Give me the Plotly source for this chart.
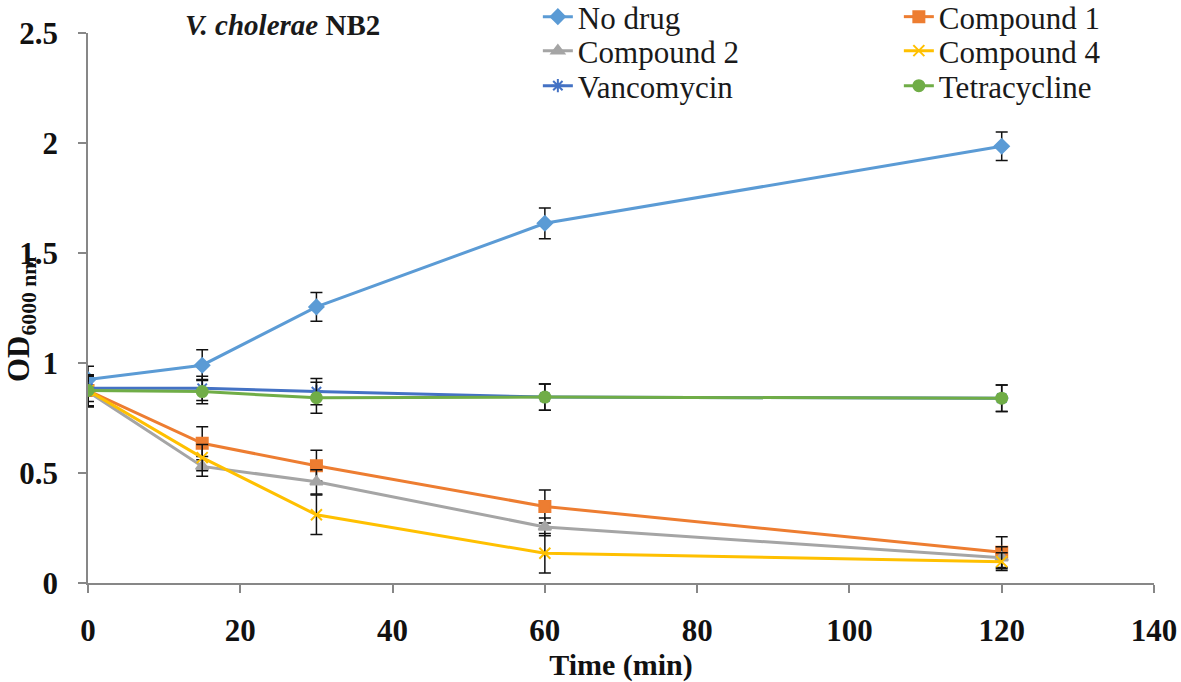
import plotly.graph_objects as go

times = [0, 15, 30, 60, 120]

series_names = ["No drug", "Compound 1", "Compound 2", "Compound 4", "Vancomycin", "Tetracycline"]
no_drug = [0.925, 0.99, 1.255, 1.635, 1.985]
no_drug_err = [0.06, 0.07, 0.065, 0.07, 0.065]
compound1 = [0.875, 0.635, 0.533, 0.348, 0.14]
compound1_err = [0.07, 0.075, 0.07, 0.075, 0.07]
compound2 = [0.87, 0.53, 0.46, 0.255, 0.115]
compound2_err = [0.07, 0.045, 0.055, 0.04, 0.05]
compound4 = [0.875, 0.57, 0.31, 0.135, 0.097]
compound4_err = [0.07, 0.06, 0.09, 0.09, 0.04]
vancomycin = [0.885, 0.885, 0.87, 0.845, 0.84]
vancomycin_err = [0.06, 0.055, 0.06, 0.06, 0.06]
tetracycline = [0.875, 0.87, 0.842, 0.845, 0.84]
tetracycline_err = [0.07, 0.055, 0.07, 0.06, 0.06]

x_ticks = [0, 20, 40, 60, 80, 100, 120, 140]
y_ticks = [0, 0.5, 1, 1.5, 2, 2.5]

values = [no_drug, compound1, compound2, compound4, vancomycin, tetracycline]
errors = [no_drug_err, compound1_err, compound2_err, compound4_err, vancomycin_err, tetracycline_err]
colors = ["#5B9BD5", "#ED7D31", "#A5A5A5", "#FFC000", "#4472C4", "#70AD47"]
symbols = ["diamond", "square", "triangle-up", "x-thin-open", "asterisk-open", "circle"]
sizes = [11, 11, 11, 11, 11, 11]
legends = ["legend", "legend", "legend2", "legend2", "legend3", "legend3"]

SERIF = "Liberation Serif"

fig = go.Figure()
for name, y, e, c, s, sz, lg in zip(series_names, values, errors, colors, symbols, sizes, legends):
    fig.add_trace(go.Scatter(
        x=times, y=y, name=name, mode="lines+markers",
        line=dict(color=c, width=3),
        marker=dict(symbol=s, size=sz, color=c, line=dict(color=c, width=2)),
        error_y=dict(type="data", array=e, visible=True, color="#111111", thickness=1.5, width=6),
        legend=lg,
    ))

legend_common = dict(
    orientation="h", entrywidth=316, xanchor="left", x=0.422, yanchor="middle",
    font=dict(family=SERIF, size=31, color="#1a1a1a"), bgcolor="rgba(0,0,0,0)",
    borderwidth=0, itemwidth=30,
)
fig.update_layout(
    width=1181, height=682,
    margin=dict(l=88, r=27, t=33, b=99, autoexpand=False),
    paper_bgcolor="white", plot_bgcolor="white",
    font=dict(family=SERIF, color="#111111"),
    title=dict(
        text="<b><i>V. cholerae</i> NB2</b>",
        font=dict(family=SERIF, size=29, color="#1a1a1a"),
        xref="paper", x=0.091, xanchor="left",
        yref="container", y=1 - 25 / 682, yanchor="middle",
    ),
    legend=dict(**legend_common, y=(583 - 17) / 550),
    legend2=dict(**legend_common, y=(583 - 51) / 550),
    legend3=dict(**legend_common, y=(583 - 86) / 550),
    xaxis=dict(
        range=[0, 140], tickvals=x_ticks, showgrid=False, zeroline=False,
        showline=True, linecolor="#878787", linewidth=1.5, automargin=False,
        ticks="outside", ticklen=8, tickcolor="#878787", tickwidth=1.5,
        tickfont=dict(family=SERIF, size=31, weight="bold", color="#111111"),
        ticklabelstandoff=11,
        title=dict(text="<b>Time (min)</b>", font=dict(family=SERIF, size=30, color="#111111"), standoff=1),
    ),
    yaxis=dict(
        range=[0, 2.5], tickvals=y_ticks, showgrid=False, zeroline=False,
        showline=True, linecolor="#878787", linewidth=1.5, automargin=False,
        ticks="outside", ticklen=8, tickcolor="#878787", tickwidth=1.5,
        tickfont=dict(family=SERIF, size=31, weight="bold", color="#111111"),
        ticklabelstandoff=14,
    ),
    annotations=[dict(
        text="<b>OD<sub>6000 nm</sub></b>", textangle=-90,
        xref="paper", yref="paper", x=(21 - 88) / 1066, y=(583 - 320) / 550,
        xanchor="center", yanchor="middle", showarrow=False,
        font=dict(family=SERIF, size=31, color="#111111"),
    )],
    showlegend=True,
)

fig.write_html("out.html", config={"displayModeBar": False},
               post_script="document.body.style.margin='0px';")
